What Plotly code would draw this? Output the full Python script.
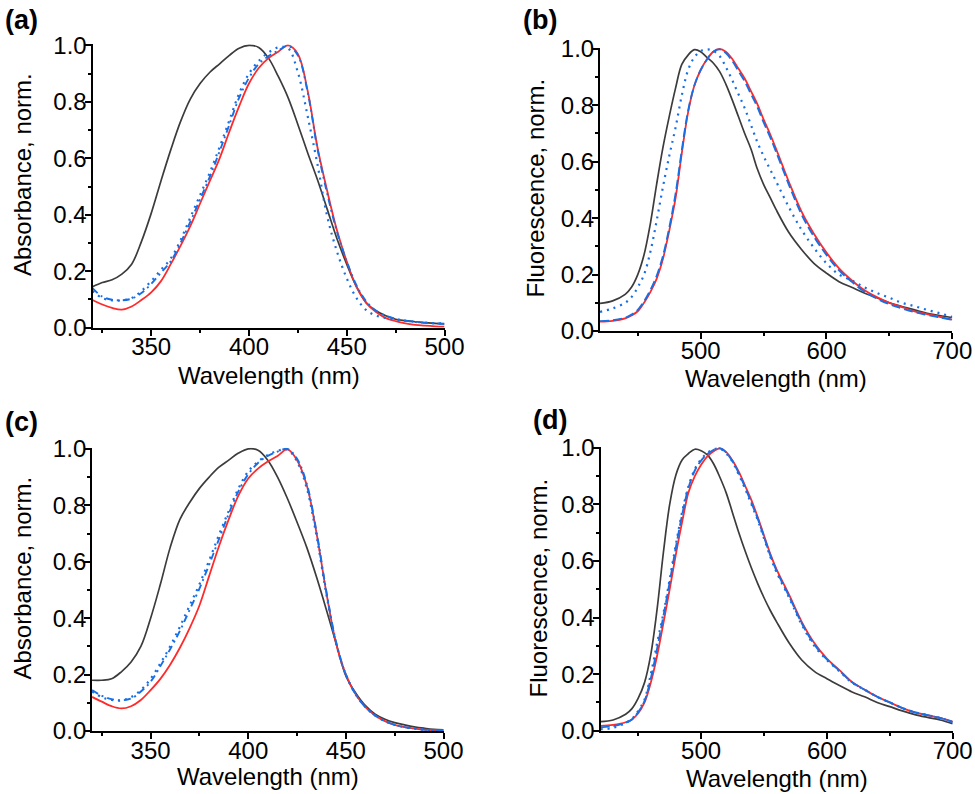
import plotly.graph_objects as go

# wavelength grids (nm)
wl_abs = [320, 325, 330, 335, 340, 345, 350, 355, 360, 365, 370, 375, 380, 385,
          390, 395, 400, 405, 410, 415, 420, 425, 430, 435, 440, 445, 450, 455,
          460, 465, 470, 475, 480, 485, 490, 495, 500]
wl_fl = [420, 430, 440, 445, 450, 455, 460, 465, 470, 475, 480, 485, 490, 495,
         500, 505, 510, 515, 520, 525, 530, 535, 540, 545, 550, 555, 560, 570,
         580, 590, 600, 610, 620, 630, 640, 650, 660, 670, 680, 690, 700]

# (a) absorbance
a_black = [0.145, 0.16, 0.17, 0.19, 0.225, 0.305, 0.405, 0.52, 0.63, 0.73, 0.81, 0.865, 0.905, 0.935, 0.965, 0.99, 1.0,
           0.993, 0.955, 0.89, 0.815, 0.72, 0.62, 0.525, 0.42, 0.315, 0.225, 0.145, 0.088, 0.06, 0.042, 0.03, 0.025, 0.021, 0.018, 0.015, 0.013]
a_red = [0.098, 0.082, 0.07, 0.064, 0.075, 0.098, 0.125, 0.165, 0.225, 0.29, 0.36, 0.44, 0.52, 0.60, 0.695, 0.785, 0.865,
         0.92, 0.955, 0.978, 1.0, 0.97, 0.84, 0.64, 0.485, 0.345, 0.235, 0.145, 0.088, 0.055, 0.034, 0.023, 0.015, 0.01, 0.007, 0.005, 0.004]
a_dot = [0.13, 0.105, 0.097, 0.097, 0.105, 0.13, 0.165, 0.205, 0.245, 0.31, 0.39, 0.47, 0.55, 0.64, 0.735, 0.83, 0.9,
         0.945, 0.975, 0.993, 0.99, 0.905, 0.75, 0.58, 0.395, 0.27, 0.175, 0.105, 0.062, 0.043, 0.034, 0.028, 0.024, 0.021, 0.018, 0.016, 0.015]
a_dashdot = [0.14, 0.11, 0.099, 0.097, 0.103, 0.123, 0.155, 0.195, 0.235, 0.3, 0.375, 0.455, 0.535, 0.625, 0.72, 0.815, 0.885,
             0.935, 0.962, 0.982, 0.998, 0.965, 0.835, 0.635, 0.475, 0.34, 0.235, 0.15, 0.093, 0.06, 0.042, 0.032, 0.025, 0.02, 0.017, 0.015, 0.014]

# (b) fluorescence
b_black = [0.098, 0.107, 0.13, 0.155, 0.2, 0.27, 0.38, 0.52, 0.65, 0.76, 0.86, 0.945, 0.978, 0.997, 0.99,
           0.97, 0.95, 0.92, 0.875, 0.82, 0.76, 0.7, 0.645, 0.575, 0.52, 0.475, 0.43,
           0.35, 0.29, 0.24, 0.205, 0.175, 0.155, 0.135, 0.118, 0.1, 0.087, 0.075, 0.063, 0.055, 0.048]
b_red = [0.033, 0.036, 0.045, 0.055, 0.07, 0.1, 0.138, 0.185, 0.255, 0.355, 0.47, 0.63, 0.775, 0.87, 0.925,
         0.963, 0.99, 1.0, 0.99, 0.965, 0.93, 0.895, 0.85, 0.805, 0.75, 0.7, 0.645,
         0.53, 0.425, 0.345, 0.278, 0.222, 0.18, 0.145, 0.12, 0.1, 0.085, 0.07, 0.06, 0.05, 0.04]
b_dot = [0.068, 0.08, 0.1, 0.12, 0.155, 0.2, 0.28, 0.39, 0.51, 0.62, 0.72, 0.835, 0.925, 0.97, 0.992,
         0.998, 0.993, 0.975, 0.936, 0.89, 0.84, 0.79, 0.73, 0.67, 0.62, 0.575, 0.53,
         0.44, 0.36, 0.295, 0.24, 0.2, 0.18, 0.155, 0.135, 0.118, 0.1, 0.088, 0.075, 0.063, 0.05]
b_dash = [0.035, 0.038, 0.047, 0.058, 0.075, 0.105, 0.145, 0.195, 0.265, 0.365, 0.485, 0.64, 0.78, 0.87, 0.925,
          0.962, 0.99, 0.998, 0.985, 0.958, 0.922, 0.885, 0.84, 0.795, 0.74, 0.69, 0.635,
          0.52, 0.415, 0.335, 0.27, 0.215, 0.175, 0.14, 0.115, 0.095, 0.08, 0.067, 0.057, 0.048, 0.04]

# (c) absorbance
c_black = [0.18, 0.18, 0.185, 0.21, 0.245, 0.3, 0.4, 0.52, 0.65, 0.75, 0.81, 0.86, 0.9, 0.935, 0.96, 0.985, 1.0,
           0.995, 0.96, 0.9, 0.825, 0.74, 0.65, 0.545, 0.43, 0.31, 0.195, 0.135, 0.09, 0.06, 0.042, 0.03, 0.022, 0.015, 0.01, 0.006, 0.004]
c_red = [0.121, 0.104, 0.088, 0.08, 0.088, 0.11, 0.145, 0.185, 0.235, 0.295, 0.365, 0.445, 0.55, 0.655, 0.75, 0.835, 0.895,
         0.93, 0.955, 0.975, 0.998, 0.96, 0.87, 0.7, 0.49, 0.31, 0.2, 0.13, 0.085, 0.055, 0.035, 0.022, 0.014, 0.009, 0.005, 0.003, 0.002]
c_dot = [0.14, 0.12, 0.11, 0.108, 0.12, 0.145, 0.185, 0.24, 0.3, 0.37, 0.445, 0.52, 0.605, 0.695, 0.78, 0.86, 0.92,
         0.955, 0.978, 0.993, 0.998, 0.955, 0.86, 0.69, 0.485, 0.31, 0.2, 0.13, 0.085, 0.055, 0.035, 0.022, 0.014, 0.009, 0.005, 0.003, 0.002]
c_dashdot = [0.145, 0.125, 0.113, 0.109, 0.115, 0.14, 0.175, 0.23, 0.29, 0.355, 0.43, 0.505, 0.59, 0.68, 0.77, 0.85, 0.91,
             0.95, 0.975, 0.99, 1.0, 0.965, 0.875, 0.705, 0.495, 0.315, 0.2, 0.13, 0.085, 0.055, 0.035, 0.022, 0.014, 0.009, 0.005, 0.003, 0.002]

# (d) fluorescence
d_black = [0.032, 0.038, 0.058, 0.078, 0.115, 0.17, 0.27, 0.43, 0.63, 0.8, 0.905, 0.958, 0.98, 0.995, 0.99,
           0.975, 0.943, 0.895, 0.84, 0.77, 0.7, 0.635, 0.575, 0.52, 0.47, 0.425, 0.385,
           0.31, 0.25, 0.21, 0.184, 0.16, 0.137, 0.12, 0.1, 0.085, 0.07, 0.057, 0.047, 0.038, 0.025]
d_red = [0.017, 0.021, 0.03, 0.04, 0.062, 0.1, 0.17, 0.265, 0.38, 0.5, 0.625, 0.74, 0.843, 0.9, 0.94,
         0.97, 0.988, 0.998, 0.985, 0.955, 0.915, 0.866, 0.815, 0.755, 0.69, 0.625, 0.57,
         0.48, 0.385, 0.31, 0.255, 0.214, 0.172, 0.145, 0.12, 0.1, 0.08, 0.065, 0.055, 0.045, 0.032]
d_dot = [0.005, 0.01, 0.028, 0.042, 0.07, 0.11, 0.2, 0.31, 0.415, 0.535, 0.66, 0.775, 0.865, 0.925, 0.96,
         0.982, 0.995, 0.997, 0.98, 0.95, 0.905, 0.855, 0.8, 0.745, 0.68, 0.615, 0.56,
         0.47, 0.375, 0.3, 0.25, 0.21, 0.17, 0.145, 0.12, 0.1, 0.08, 0.065, 0.055, 0.045, 0.03]
d_dash = [0.012, 0.016, 0.028, 0.04, 0.066, 0.105, 0.185, 0.29, 0.405, 0.525, 0.65, 0.765, 0.86, 0.92, 0.955,
          0.978, 0.993, 0.998, 0.983, 0.952, 0.91, 0.86, 0.805, 0.75, 0.685, 0.62, 0.565,
          0.475, 0.38, 0.305, 0.252, 0.212, 0.171, 0.145, 0.12, 0.1, 0.08, 0.065, 0.055, 0.045, 0.031]

FONT = "Liberation Sans, Arial, sans-serif"
BLACK = "#3c3c3c"
RED = "#ff2a2a"
BLUE = "#176fe6"

fig = go.Figure()


def add_panel(n, x, black, red, dot, other, other_dash):
    xa = "x" if n == 1 else "x%d" % n
    ya = "y" if n == 1 else "y%d" % n
    common = dict(x=x, mode="lines", xaxis=xa, yaxis=ya, showlegend=False,
                  line_shape="spline")
    fig.add_trace(go.Scatter(y=black, line=dict(color=BLACK, width=1.7), **common))
    fig.add_trace(go.Scatter(y=red, line=dict(color=RED, width=1.8), **common))
    fig.add_trace(go.Scatter(y=dot, line=dict(color=BLUE, width=2.2, dash="2px,5px"), **common))
    fig.add_trace(go.Scatter(y=other, line=dict(color=BLUE, width=1.9, dash=other_dash), **common))


add_panel(1, wl_abs, a_black, a_red, a_dot, a_dashdot, "7px,4px,2px,4px")
add_panel(2, wl_fl, b_black, b_red, b_dot, b_dash, "9px,4px")
add_panel(3, wl_abs, c_black, c_red, c_dot, c_dashdot, "7px,4px,2px,4px")
add_panel(4, wl_fl, d_black, d_red, d_dot, d_dash, "9px,4px")


def axis(domain, anchor, rng, dtick, minor_dtick, fmt=None, standoff=0):
    d = dict(domain=domain, anchor=anchor, range=rng, dtick=dtick, tick0=0,
             automargin=False,
             showline=True, linecolor="black", linewidth=2,
             ticks="outside", ticklen=6, tickwidth=1.5, tickcolor="black",
             ticklabelstandoff=standoff,
             showgrid=False, zeroline=False,
             tickfont=dict(size=24, family=FONT, color="black"),
             minor=dict(ticks="outside", ticklen=3, tickwidth=1.5,
                        tickcolor="black", dtick=minor_dtick, tick0=0, showgrid=False))
    if fmt:
        d["tickformat"] = fmt
    return d


fig.update_layout(
    width=975, height=794,
    margin=dict(l=0, r=0, t=0, b=0, pad=0),
    paper_bgcolor="white", plot_bgcolor="white",
    font=dict(family=FONT, size=24, color="black"),
    xaxis=axis([0.0949, 0.4559], "y", [320, 500], 50, 25, standoff=-9),
    yaxis=axis([0.5873, 0.9442], "x", [0, 1.004], 0.2, 0.1, ".1f", standoff=-7),
    xaxis2=axis([0.6154, 0.9767], "y2", [420, 700], 100, 50, standoff=-9),
    yaxis2=axis([0.5831, 0.9399], "x2", [0, 1.004], 0.2, 0.1, ".1f", standoff=-7),
    xaxis3=axis([0.0944, 0.4549], "y3", [320, 500], 50, 25, standoff=-9),
    yaxis3=axis([0.0793, 0.4361], "x3", [0, 1.004], 0.2, 0.1, ".1f", standoff=-7),
    xaxis4=axis([0.6159, 0.9771], "y4", [420, 700], 100, 50, standoff=-9),
    yaxis4=axis([0.0797, 0.4374], "x4", [0, 1.004], 0.2, 0.1, ".1f", standoff=-7),
)

ann = []
# panel letters
for txt, xp, yp in [("(a)", 3, 20), ("(b)", 521, 20), ("(c)", 3, 422), ("(d)", 531, 420)]:
    ann.append(dict(text="<b>%s</b>" % txt, x=xp / 975, y=1 - yp / 794, xref="paper", yref="paper",
                    xanchor="left", yanchor="middle", showarrow=False,
                    font=dict(size=27, family=FONT, color="black")))
# x titles
for xp, yp in [(268.5, 376), (776, 378), (267.5, 776.5), (777, 778)]:
    ann.append(dict(text="Wavelength (nm)", x=xp / 975, y=1 - yp / 794, xref="paper", yref="paper",
                    xanchor="center", yanchor="middle", showarrow=False,
                    font=dict(size=24, family=FONT, color="black")))
# y titles
for txt, xp, yp in [("Absorbance, norm.", 22, 175), ("Fluorescence, norm.", 535, 188.5),
                    ("Absorbance, norm.", 22, 578.5), ("Fluorescence, norm.", 538, 588.5)]:
    ann.append(dict(text=txt, x=xp / 975, y=1 - yp / 794, xref="paper", yref="paper",
                    xanchor="center", yanchor="middle", textangle=-90, showarrow=False,
                    font=dict(size=24, family=FONT, color="black")))
fig.update_layout(annotations=ann)

# drop the default page margin so the figure sits at the window's top-left corner
fig.write_html("out.html", config={"displayModeBar": False},
               post_script="document.body.style.margin='0';document.body.style.overflow='hidden';")
